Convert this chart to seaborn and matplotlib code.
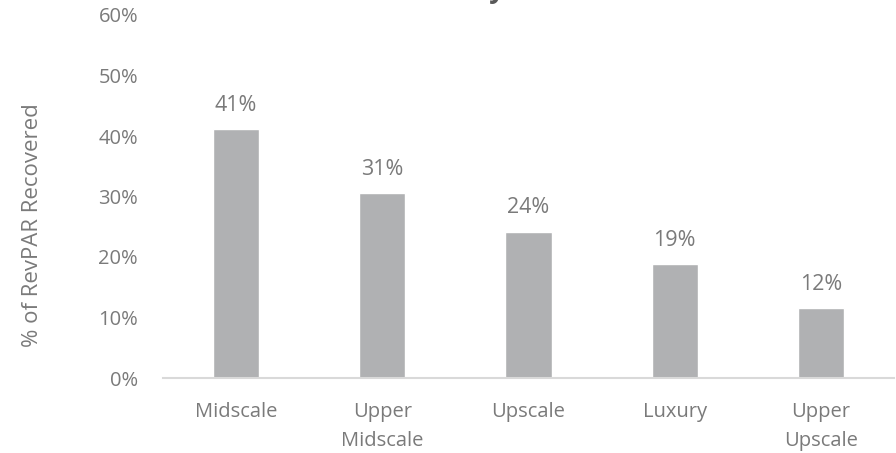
import matplotlib
matplotlib.use("Agg")
import matplotlib.pyplot as plt
import seaborn as sns
import pandas as pd

categories = ["Midscale", "Upper\nMidscale", "Upscale", "Luxury", "Upper\nUpscale"]
recovered_pct = [41.1, 30.6, 24.2, 18.8, 11.6]
y_ticks = [0, 10, 20, 30, 40, 50, 60]

sns.set_theme(style="white")
plt.rcParams['font.family'] = ['Open Sans', 'DejaVu Sans']

df = pd.DataFrame({"cat": categories, "val": recovered_pct})

fig = plt.figure(figsize=(8.96, 4.53), dpi=100)
ax = fig.add_axes([163/896, 1-378/453, 731/896, 363/453])

sns.barplot(data=df, x="cat", y="val", color="#b0b1b3", saturation=1, width=0.315, ax=ax)

txt = "#7a7a7a"
for i, v in enumerate(recovered_pct):
    ax.text(i, v + 3.0, f"{round(v)}%", ha="center", va="baseline", fontsize=15.5, color=txt)

ax.set_ylim(0, 60)
ax.set_xlim(-0.5, len(categories) - 0.5)
ax.set_yticks(y_ticks)
ax.set_yticklabels([f"{t}%" for t in y_ticks], fontsize=14.5, color=txt)
ax.tick_params(axis="x", labelsize=14.5, colors=txt, pad=17, length=0)
ax.tick_params(axis="y", pad=18, length=0)
for lbl in ax.get_xticklabels():
    lbl.set_linespacing(1.65)
ax.set_xlabel("")
ax.set_ylabel("% of RevPAR Recovered", fontsize=16, color=txt)
ax.yaxis.set_label_coords((33 - 163) / 731, (378 - 225) / 363)
ax.yaxis.label.set(va="center", ha="center", rotation_mode="default")
for s in ["top", "right", "left"]:
    ax.spines[s].set_visible(False)
ax.spines["bottom"].set_color("#d9d9d9")
ax.spines["bottom"].set_linewidth(1.5)

fig.text(505/896, 1 + 3/453, "RevPAR Recovery", ha="right", va="baseline",
         fontsize=20, fontweight="bold", color="#595959")

fig.savefig("out.png", dpi=100)
